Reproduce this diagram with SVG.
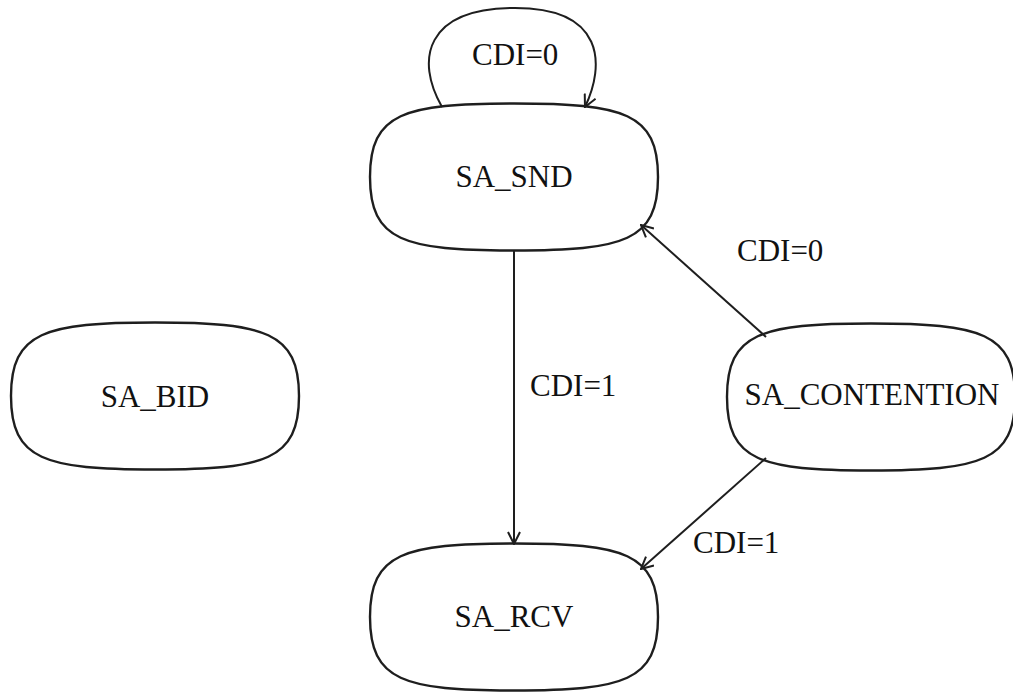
<svg xmlns="http://www.w3.org/2000/svg" xmlns:xlink="http://www.w3.org/1999/xlink" width="1013" height="692" viewBox="0 0 1013 692">
  <style>
    .state { fill: #ffffff; stroke: #1e1e1e; stroke-width: 2.4; }
    .edge { fill: none; stroke: #1e1e1e; stroke-width: 2; marker-end: url(#arrow); }
    .label { font-family: "Liberation Serif", "Times New Roman", serif; font-size: 31px; fill: #111111; }
    .name { text-anchor: middle; }
  </style>
  <defs>
    <!-- rounded state outline centred on the origin -->
    <path id="stateShape" d="M0,-73.5 C-110,-73.5 -144,-64 -144,0 C-144,64 -110,73.5 0,73.5 C110,73.5 144,64 144,0 C144,-64 110,-73.5 0,-73.5 Z"/>
    <marker id="arrow" markerWidth="14" markerHeight="14" refX="13" refY="7" orient="auto" markerUnits="userSpaceOnUse">
      <path d="M1,1 L13,7 L1,13" fill="none" stroke="#1e1e1e" stroke-width="2"/>
    </marker>
  </defs>

  <rect width="1013" height="692" fill="#ffffff"/>

  <g id="node-sa-snd">
    <use xlink:href="#stateShape" class="state" transform="translate(514,177)"/>
    <text class="label name" x="514" y="187">SA_SND</text>
  </g>

  <g id="node-sa-bid">
    <use xlink:href="#stateShape" class="state" transform="translate(155,396)"/>
    <text class="label name" x="155" y="407">SA_BID</text>
  </g>

  <g id="node-sa-contention">
    <use xlink:href="#stateShape" class="state" transform="translate(871,397)"/>
    <text class="label name" x="872" y="405">SA_CONTENTION</text>
  </g>

  <g id="node-sa-rcv">
    <use xlink:href="#stateShape" class="state" transform="translate(514,617)"/>
    <text class="label name" x="514" y="627">SA_RCV</text>
  </g>

  <g id="connectors">
    <!-- SA_SND self loop -->
    <path class="edge" d="M442,107 C415,60 425,8 515,8 C605,8 605,65 585,107"/>
    <text class="label" x="472" y="65">CDI=0</text>

    <!-- SA_SND to SA_RCV -->
    <path class="edge" d="M514,250 L514,544"/>
    <text class="label" x="530" y="396">CDI=1</text>

    <!-- SA_CONTENTION to SA_SND -->
    <path class="edge" d="M766,337 L641,225"/>
    <text class="label" x="737" y="261">CDI=0</text>

    <!-- SA_CONTENTION to SA_RCV -->
    <path class="edge" d="M766,458 L641,569"/>
    <text class="label" x="693" y="553">CDI=1</text>
  </g>
</svg>
